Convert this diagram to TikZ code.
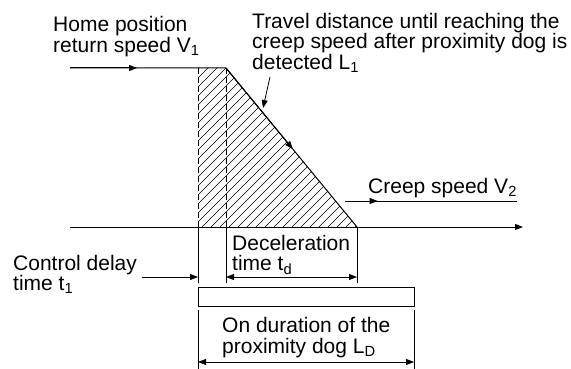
\documentclass[tikz,border=0pt]{standalone}
\usepackage{fontspec}
\setmainfont{Liberation Sans}
\usepackage{tikz}
\usetikzlibrary{arrows.meta, calc}

\begin{document}
\begin{tikzpicture}[
        x=1pt, y=-1pt,
        lbl/.style={anchor=base west, inner sep=0pt, align=left, font=\fontsize{21}{20.5}\selectfont},
        line/.style={line width=1pt},
        flow/.style={line width=1pt, -{Triangle[length=8pt, width=6pt]}},
        dim/.style={line width=0.8pt, {Triangle[length=8pt, width=6pt]}-{Triangle[length=8pt, width=6pt]}},
        hatch/.style={line width=0.6pt}
    ]
    \useasboundingbox (0,0) rectangle (571,369);

    % Points of the speed curve
    \coordinate (v1s) at (70,68);
    \coordinate (dog) at (198,68);
    \coordinate (dec) at (226,68);
    \coordinate (end) at (357,227);
    \coordinate (v2s) at (345,201);
    \coordinate (v2e) at (517,201);
    \coordinate (ax0) at (70,227);
    \coordinate (ax1) at (523,227);
    \coordinate (dogb) at (198,227);
    \coordinate (decb) at (226,227);

    % Hatched area
    \begin{scope}
        \clip (dog) -- (dec) -- (end) -- (dogb) -- cycle;
        \foreach \i in {0,9,...,360}
            \draw[hatch] (40+\i,227) -- ++(170,-170);
    \end{scope}
    \draw[line, dashed, dash pattern=on 6pt off 3pt] (dog) -- (dogb);
    \draw[line, dashed, dash pattern=on 6pt off 3pt] (dec) -- (decb);

    % Speed curve
    \draw[line] (v1s) -- (dec) -- (end);
    \draw[flow] (v1s) -- ($(v1s)!0.43!(dec)$);
    \draw[flow] (dec) -- ($(dec)!0.51!(end)$);
    \draw[line] (v2s) -- (v2e);
    \draw[flow] (v2s) -- ($(v2s)!0.19!(v2e)$);
    \draw[flow] (ax0) -- (ax1);

    % Labels (anchored on the baseline of the last line)
    \node[lbl] (home) at (53,52.3) {Home position\\return speed V\textsubscript{1}};
    \node[lbl] (travel) at (252,69.3) {Travel distance until reaching the\\creep speed after proximity dog is\\detected L\textsubscript{1}};
    \node[lbl] (creep) at (368,193.3) {Creep speed V\textsubscript{2}};
    \node[lbl] (decel) at (232,270.7) {Deceleration\\time t\textsubscript{d}};
    \node[lbl] (ctrl) at (13,290.5) {Control delay\\time t\textsubscript{1}};
    \node[lbl] (ondur) at (222,353.3) {On duration of the\\proximity dog L\textsubscript{D}};

    % Pointer to the slope
    \coordinate (ptr0) at (270,77);
    \coordinate (ptr1) at (263,108);
    \draw[line width=0.8pt, -{Triangle[length=8pt, width=6pt]}] (ptr0) -- (ptr1);

    % Extension lines
    \coordinate (t1a) at (198,283);
    \coordinate (tda) at (226,283);
    \coordinate (tdb) at (357,283);
    \draw[line width=0.8pt] (dogb) -- (t1a);
    \draw[line width=0.8pt] (decb) -- (tda);
    \draw[line width=0.8pt] (end) -- (tdb);

    % Time dimensions
    \coordinate (c0) at (142,277);
    \coordinate (c1) at (198,277);
    \coordinate (d0) at (226,277);
    \coordinate (d1) at (357,277);
    \draw[line width=0.8pt, -{Triangle[length=8pt, width=6pt]}] (c0) -- (c1);
    \draw[dim] (d0) -- (d1);

    % Proximity dog signal
    \coordinate (r0) at (198,287);
    \coordinate (r1) at (414,306);
    \draw[line] (r0) rectangle (r1);
    \coordinate (l0a) at (198,310);
    \coordinate (l0b) at (198,369);
    \coordinate (l1a) at (414,310);
    \coordinate (l1b) at (414,369);
    \draw[line width=0.8pt] (l0a) -- (l0b);
    \draw[line width=0.8pt] (l1a) -- (l1b);
    \coordinate (e0) at (198,362);
    \coordinate (e1) at (414,362);
    \draw[dim] (e0) -- (e1);
\end{tikzpicture}
\end{document}
